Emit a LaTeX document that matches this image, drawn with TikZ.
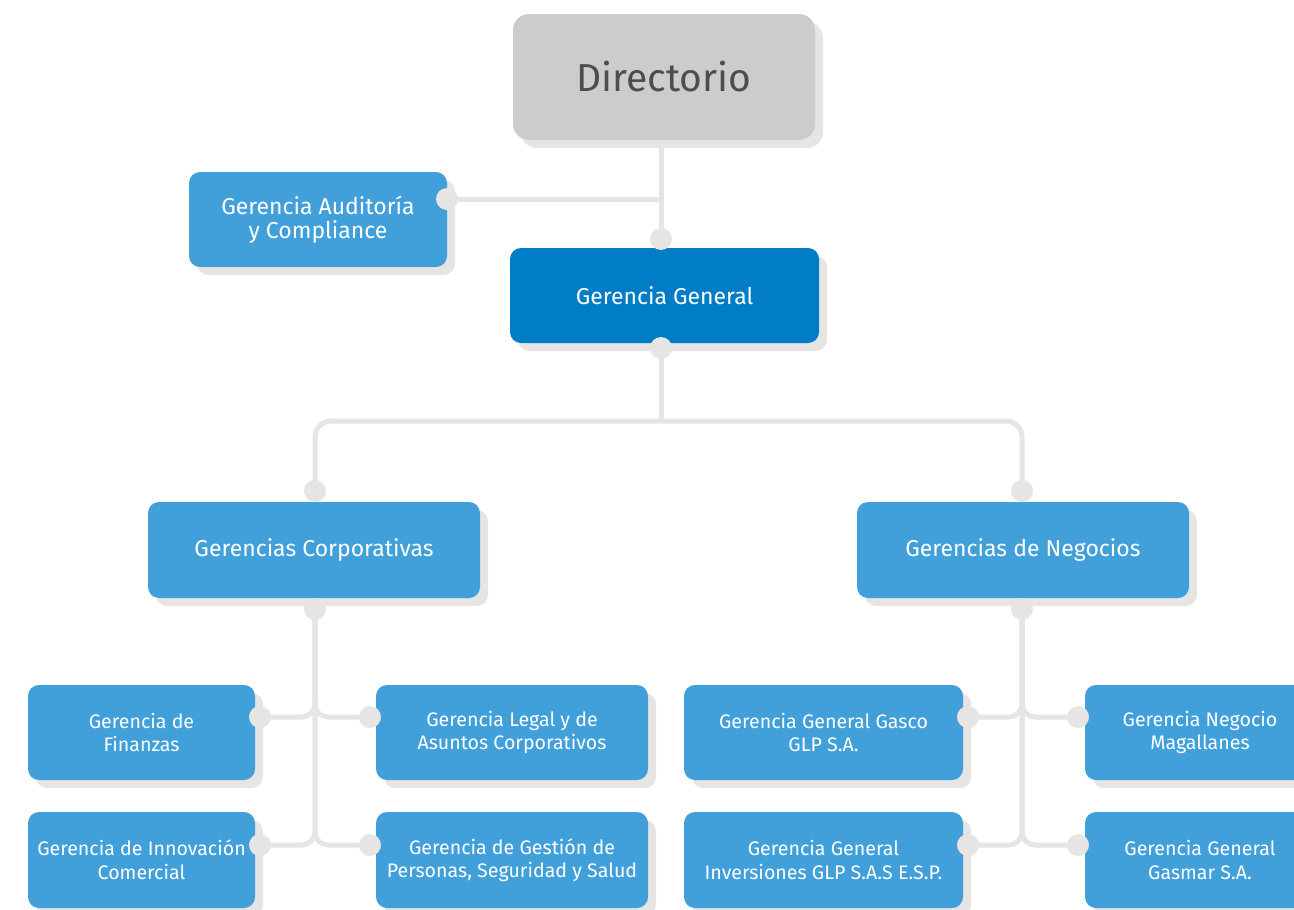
\documentclass[tikz,border=0pt]{standalone}
\usepackage{fontspec}
\setmainfont{Fira Sans}
\usetikzlibrary{shadows}
\definecolor{boxblue}{HTML}{41A0DA}
\definecolor{ggblue}{HTML}{007DC6}
\definecolor{dirgray}{HTML}{CDCCCB}
\definecolor{dirtext}{HTML}{4D4D4D}
\definecolor{linegray}{HTML}{E6E5E4}
\tikzset{
  conn/.style={draw=linegray, line width=5pt},
  dotc/.style={fill=linegray, draw=none},
  orgbox/.style={rounded corners=11pt, fill=boxblue, text=white, align=center,
    inner sep=0pt, font=\fontsize{19.6}{23.5}\selectfont,
    drop shadow={shadow xshift=8pt, shadow yshift=-8pt, fill=linegray, opacity=1}},
  midbox/.style={orgbox, font=\fontsize{23}{27}\selectfont},
}
\begin{document}
\begin{tikzpicture}[x=1pt,y=-1pt]
\useasboundingbox (0,0) rectangle (1294,910);
% coordinates
\coordinate (d1) at (661,199);
\coordinate (a1) at (447,199);
\coordinate (g0) at (661,239);
\coordinate (g1) at (661,348);
\coordinate (h) at (661,421);
\coordinate (c0) at (315,491);
\coordinate (n0) at (1022,491);
\coordinate (c1) at (315,609);
\coordinate (n1) at (1022,609);
\coordinate (f0) at (260,717);
\coordinate (l0) at (370,717);
\coordinate (i0) at (260,845);
\coordinate (p0) at (370,845);
\coordinate (ga0) at (968,717);
\coordinate (m0) at (1078,717);
\coordinate (iv0) at (968,845);
\coordinate (gm0) at (1078,845);
\coordinate (dtop) at (661,140);
% connectors
\draw[conn] (dtop) -- (g0);
\draw[conn] (d1) -- (a1);
\draw[conn] (g1) -- (h);
\draw[conn, rounded corners=16pt] (c0) |- (h) -| (n0);
\draw[conn, rounded corners=13pt] (c1) |- (f0);
\draw[conn, rounded corners=13pt] (c1) |- (l0);
\draw[conn, rounded corners=13pt] (c1) |- (i0);
\draw[conn, rounded corners=13pt] (c1) |- (p0);
\draw[conn, rounded corners=13pt] (n1) |- (ga0);
\draw[conn, rounded corners=13pt] (n1) |- (m0);
\draw[conn, rounded corners=13pt] (n1) |- (iv0);
\draw[conn, rounded corners=13pt] (n1) |- (gm0);
% boxes
\node[orgbox, fill=dirgray, text=dirtext, minimum width=302pt, minimum height=126pt,
  rounded corners=16pt, font=\fontsize{39}{44}\selectfont] (dir) at (664,77) {\raisebox{-3pt}{Directorio}};
\node[orgbox, minimum width=258pt, minimum height=95pt, font=\fontsize{23}{23.5}\selectfont] (aud) at (318,219.5) {Gerencia Auditoría\\y Compliance};
\node[midbox, fill=ggblue, minimum width=309pt, minimum height=95pt] (gg) at (664.5,295.5) {Gerencia General};
\node[midbox, minimum width=332pt, minimum height=96pt] (corp) at (314,550) {Gerencias Corporativas};
\node[midbox, minimum width=332pt, minimum height=96pt] (neg) at (1023,550) {Gerencias de Negocios};
\node[orgbox, minimum width=227pt, minimum height=95pt] (fin) at (141.5,732.5) {Gerencia de\\Finanzas};
\node[orgbox, minimum width=272pt, minimum height=95pt] (legal) at (512,732.5) {Gerencia Legal y de\\Asuntos Corporativos};
\node[orgbox, minimum width=227pt, minimum height=96pt] (innov) at (141.5,860) {Gerencia de Innovación\\Comercial};
\node[orgbox, minimum width=272pt, minimum height=96pt] (pers) at (512,860) {Gerencia de Gestión de\\Personas, Seguridad y Salud};
\node[orgbox, minimum width=279pt, minimum height=95pt] (gasco) at (823.5,732.5) {Gerencia General Gasco\\GLP S.A.};
\node[orgbox, minimum width=279pt, minimum height=96pt] (inv) at (823.5,860) {Gerencia General\\Inversiones GLP S.A.S E.S.P.};
\node[orgbox, minimum width=230pt, minimum height=95pt] (mag) at (1200,732.5) {Gerencia Negocio\\Magallanes};
\node[orgbox, minimum width=230pt, minimum height=96pt] (gasmar) at (1200,860) {Gerencia General\\Gasmar S.A.};
% dots
\foreach \p in {a1,g0,g1,c0,n0,c1,n1,f0,l0,i0,p0,ga0,m0,iv0,gm0}
  \fill[dotc] (\p) circle (11pt);
\end{tikzpicture}
\end{document}
